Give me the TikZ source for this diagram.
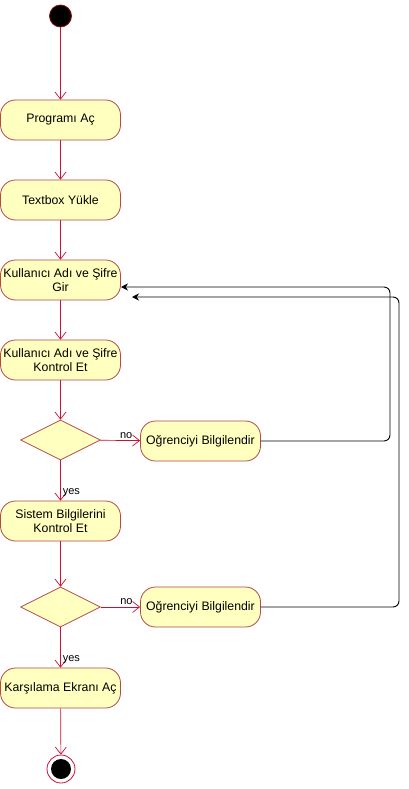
\documentclass[tikz,border=0pt]{standalone}
\usepackage{fontspec}
\setmainfont{Liberation Sans}
\usetikzlibrary{arrows.meta,shapes.geometric}
\definecolor{actfill}{HTML}{FFFFC0}
\definecolor{actdraw}{HTML}{B5484A}
\definecolor{flow}{HTML}{CC1033}
\definecolor{startdraw}{HTML}{8B1010}
\tikzset{
  act/.style={rectangle, rounded corners=15pt, draw=actdraw, fill=actfill, line width=0.8pt,
    minimum width=120pt, minimum height=40pt, align=center, inner sep=0pt,
    font=\fontsize{12.3}{14}\selectfont},
  dec/.style={diamond, draw=actdraw, fill=actfill, line width=0.8pt, minimum width=80pt,
    minimum height=40pt, inner sep=0pt},
  flowline/.style={draw=flow, line width=0.7pt, -{Straight Barb[length=7pt,width=11pt]}},
  back/.style={draw=black, line width=0.9pt, rounded corners=6pt, -{Stealth[length=7pt,width=7pt]}},
  lbl/.style={font=\fontsize{11}{13}\selectfont, inner sep=2pt}
}
\begin{document}
\begin{tikzpicture}[x=1pt,y=-1pt]
\useasboundingbox[fill=white] (0,0) rectangle (409,789);
\node[circle, fill=black, draw=startdraw, line width=0.8pt, minimum size=22pt, inner sep=0pt] (start) at (60.5,16) {};
\node[act] (p1) at (60.5,120) {Programı Aç};
\node[act] (p2) at (60.5,200) {Textbox Yükle};
\node[act] (p3) at (60.5,280) {Kullanıcı Adı ve Şifre\\Gir};
\node[act] (p4) at (60.5,360) {Kullanıcı Adı ve Şifre\\Kontrol Et};
\node[dec] (d1) at (60.5,440) {};
\node[act] (o1) at (200.5,441) {Oğrenciyi Bilgilendir};
\node[act] (p5) at (60.5,521) {Sistem Bilgilerini\\Kontrol Et};
\node[dec] (d2) at (60.5,607) {};
\node[act] (o2) at (200.5,607) {Oğrenciyi Bilgilendir};
\node[act] (p6) at (60.5,688) {Karşılama Ekranı Aç};
\node[circle, draw=flow, fill=white, line width=0.8pt, minimum size=28pt, inner sep=0pt] (end) at (61,769) {};
\node[circle, fill=black, minimum size=20pt, inner sep=0pt] (endin) at (end) {};
\coordinate (r1) at (390,287);
\coordinate (t1) at (121,287);
\coordinate (r2) at (399,297);
\coordinate (t2) at (132,297);

\draw[flowline] (start) -- (p1);
\draw[flowline] (p1) -- (p2);
\draw[flowline] (p2) -- (p3);
\draw[flowline] (p3) -- (p4);
\draw[flowline] (p4) -- (d1);
\draw[flowline] (d1) -- node[lbl, pos=0.65, above] {no} (o1);
\draw[flowline] (d1) -- node[lbl, pos=0.8, anchor=west] {yes} (p5);
\draw[flowline] (p5) -- (d2);
\draw[flowline] (d2) -- node[lbl, pos=0.65, above] {no} (o2);
\draw[flowline] (d2) -- node[lbl, pos=0.8, anchor=west] {yes} (p6);
\draw[flowline] (p6) -- (end);
\draw[back] (o1.east) -| (r1) -- (t1);
\draw[back] (o2.east) -| (r2) -- (t2);
\end{tikzpicture}
\end{document}
